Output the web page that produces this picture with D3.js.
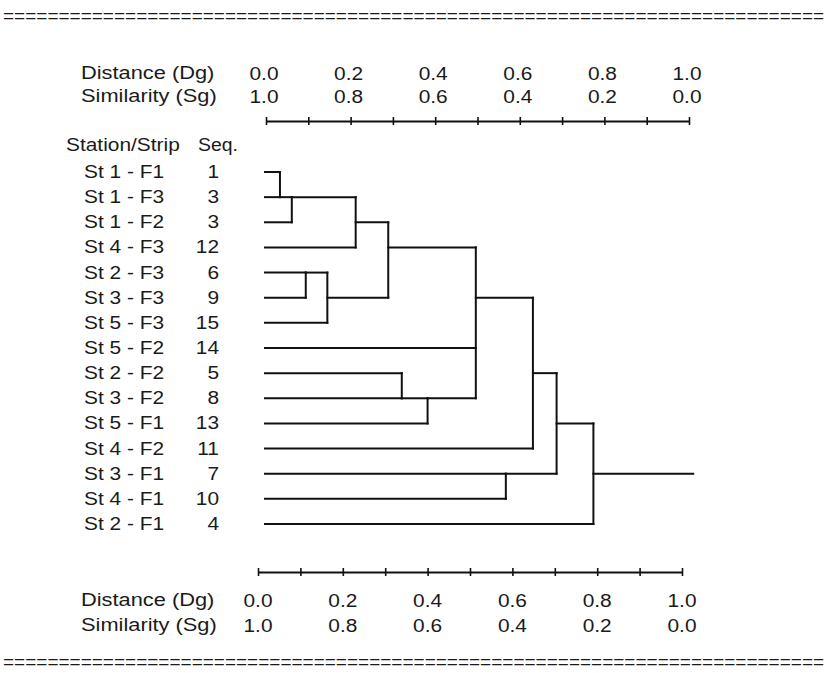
<!DOCTYPE html>
<html>
<head>
<meta charset="utf-8">
<script src="https://cdn.jsdelivr.net/npm/d3@7"></script>
<style>
  body { margin: 0; background: #fff; }
  text { font-family: "Liberation Sans", Arial, sans-serif; fill: #1a1a1a; }
</style>
</head>
<body>
<div id="canvas"></div>
<script>
// leaves, top to bottom
const stations = ["St 1 - F1", "St 1 - F3", "St 1 - F2", "St 4 - F3", "St 2 - F3", "St 3 - F3", "St 5 - F3",
    "St 5 - F2", "St 2 - F2", "St 3 - F2", "St 5 - F1", "St 4 - F2", "St 3 - F1", "St 4 - F1", "St 2 - F1"];
const seqs = [1, 3, 3, 12, 6, 9, 15, 14, 5, 8, 13, 11, 7, 10, 4];

// merges: node ids 0..14 are leaves, merge i gets id 15 + i
const mergeChildren = [[0, 1], [15, 2], [16, 3], [4, 5], [18, 6], [17, 19], [8, 9], [21, 10],
    [20, 7, 22], [23, 11], [12, 13], [24, 25], [26, 14]];
const mergeDist = [0.033, 0.061, 0.212, 0.094, 0.145, 0.289, 0.321, 0.382, 0.496, 0.631, 0.567, 0.687, 0.774];
const mergeRow = [1, 1, 2, 4, 5, 3, 9, 9, 5, 8, 12, 10, 12]; // row where the link leaves the node
const rootEnd = 1.01;

const tickVals = d3.range(0, 11).map(d => d / 10);
const distLabels = ["0.0", "0.2", "0.4", "0.6", "0.8", "1.0"];
const simLabels = ["1.0", "0.8", "0.6", "0.4", "0.2", "0.0"];

const width = 830;
const height = 673;
const fs = 18.5;
const sx = 1.13;

const svg = d3.select("#canvas").append("svg")
    .attr("width", width)
    .attr("height", height);

const x = d3.scaleLinear().domain([0, 1]).range([266, 689]);
const xb = d3.scaleLinear().domain([0, 1]).range([258, 682]);
const y = d3.scaleLinear().domain([0, 14]).range([172, 524]);

function label(txt, px, py, anchor, scl) {
    return svg.append("text")
        .attr("transform", `translate(${px},${py}) scale(${scl || sx},1)`)
        .attr("text-anchor", anchor || "start")
        .style("font-size", fs + "px")
        .text(txt);
}

// "=" rules
const eq = "=".repeat(74);
label(eq, 3, 22, "start", 1).style("font-size", "19px");
label(eq, 3, 668, "start", 1).style("font-size", "19px");

function axisBlock(scale, axisY, row1, row2, shift) {
    const ax = svg.append("g")
        .attr("transform", `translate(0,${axisY})`)
        .call(d3.axisBottom(scale).tickValues(tickVals).tickSize(4).tickSizeOuter(0).tickFormat(""));
    ax.select(".domain").attr("stroke", "#111").attr("stroke-width", 2);
    ax.selectAll(".tick line").attr("y1", -4).attr("stroke", "#111").attr("stroke-width", 1.6);

    label("Distance (Dg)", 81, row1, "start", 1.18);
    label("Similarity (Sg)", 81, row2, "start", 1.18);
    distLabels.forEach((t, i) => label(t, scale(i * 0.2) + shift, row1 + 1, "middle"));
    simLabels.forEach((t, i) => label(t, scale(i * 0.2) + shift, row2 + 1, "middle"));
}

axisBlock(x, 121, 79, 102, -2);
axisBlock(xb, 572, 606, 631, 0);

label("Station/Strip", 66, 151);
label("Seq.", 198, 151, "start", 1.05);

stations.forEach((s, i) => {
    label(s, 84, y(i) + 6);
    label(seqs[i], 219, y(i) + 6, "end");
});

// dendrogram
const nodeDist = d3.range(15).map(() => 0).concat(mergeDist);
const nodeRow = d3.range(15).concat(mergeRow);

const segs = [];
mergeChildren.forEach((ch, i) => {
    const h = mergeDist[i];
    const rows = ch.map(c => nodeRow[c]);
    segs.push([x(h), y(d3.min(rows)), x(h), y(d3.max(rows))]);
    ch.forEach(c => {
        segs.push([x(nodeDist[c]) - (c < 15 ? 1 : 0), y(nodeRow[c]), x(h), y(nodeRow[c])]);
    });
});
const rootId = 15 + mergeChildren.length - 1;
segs.push([x(nodeDist[rootId]), y(nodeRow[rootId]), x(rootEnd), y(nodeRow[rootId])]);

svg.append("g").selectAll("line").data(segs).enter().append("line")
    .attr("x1", d => d[0])
    .attr("y1", d => d[1])
    .attr("x2", d => d[2])
    .attr("y2", d => d[3])
    .attr("stroke", "#111")
    .attr("stroke-width", 2)
    .attr("stroke-linecap", "square");
</script>
</body>
</html>
